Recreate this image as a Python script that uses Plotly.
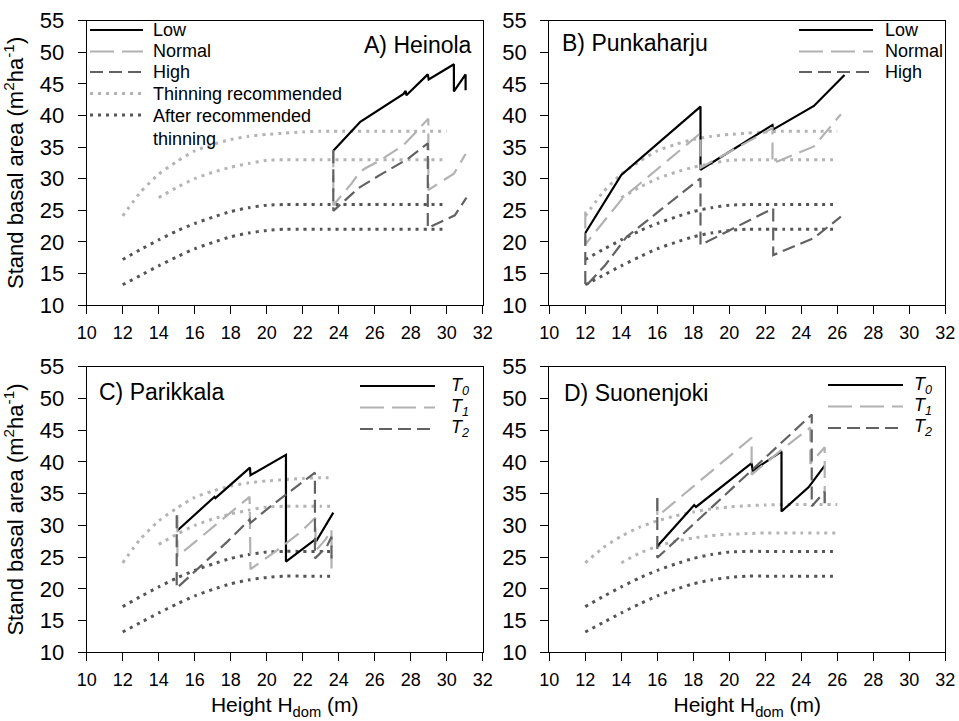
import plotly.graph_objects as go

W, H = 959, 721

# ---------------- reference (dotted) curves: stand basal area vs dominant height ----------------
REF_H = [12, 13, 14, 15, 16, 17, 18, 19, 20, 21, 22, 23, 23.7, 24, 25, 26, 27, 28, 29, 30]
THIN_HI = [24.1, 27.9, 30.7, 32.7, 34.4, 35.4, 36.2, 36.7, 37.0, 37.2, 37.4, 37.5, 37.5, 37.5, 37.5, 37.5, 37.5, 37.5, 37.5, 37.5]
THIN_LO = [None, None, 27.0, 28.6, 30.0, 31.0, 31.8, 32.4, 32.9, 33.0, 33.0, 33.0, 33.0, 33.0, 33.0, 33.0, 33.0, 33.0, 33.0, 33.0]
AFTER_HI = [17.2, 18.8, 20.3, 21.7, 22.9, 23.9, 24.8, 25.4, 25.8, 25.9, 25.9, 25.9, 25.9, 25.9, 25.9, 25.9, 25.9, 25.9, 25.9, 25.9]
AFTER_LO = [13.2, 14.7, 16.2, 17.6, 18.9, 19.9, 20.8, 21.4, 21.8, 22.0, 22.0, 22.0, 22.0, 22.0, 22.0, 22.0, 22.0, 22.0, 22.0, 22.0]
# Suonenjoki has lower "thinning recommended" limits
THIN_HI_D = [24.1, 26.5, 28.3, 29.7, 30.7, 31.5, 32.1, 32.6, 32.9, 33.1, 33.2, 33.3, 33.3, 33.3, 33.3, 33.3, 33.3, 33.3, 33.3, 33.3]
THIN_LO_D = [None, None, 24.1, 25.6, 26.7, 27.5, 28.0, 28.4, 28.6, 28.7, 28.8, 28.8, 28.8, 28.8, 28.8, 28.8, 28.8, 28.8, 28.8, 28.8]
REF_END = {"A": 30, "B": 26, "C": 23.7, "D": 26}

# ---------------- A) Heinola ----------------
A_LOW_X = [23.7, 25.2, 27.6, 27.72, 27.76, 28.95, 29.0, 30.4, 30.4, 31.05, 31.05]
A_LOW_Y = [34.4, 39.0, 43.4, 43.9, 43.2, 46.5, 45.7, 48.1, 43.8, 46.5, 44.0]
A_NOR_X = [23.7, 23.7, 24.26, 24.72, 25.19, 25.46, 26.3, 27.6, 28.4, 28.98, 28.98, 30.4, 31.05]
A_NOR_Y = [34.5, 25.8, 27.7, 29.25, 31.1, 31.6, 32.9, 35.3, 37.7, 39.5, 28.2, 30.8, 33.9]
A_HIG_X = [23.7, 23.7, 25.1, 26.3, 27.8, 28.95, 28.95, 30.45, 31.1]
A_HIG_Y = [34.5, 24.9, 28.5, 30.6, 33.05, 35.6, 22.2, 24.2, 27.0]

# ---------------- B) Punkaharju ----------------
B_LOW_X = [12.0, 14.0, 18.4, 18.4, 22.4, 22.45, 24.7, 26.4]
B_LOW_Y = [21.4, 30.6, 41.4, 31.4, 38.5, 37.8, 41.5, 46.4]
B_NOR_X = [12.0, 12.0, 14.1, 18.4, 18.4, 22.4, 22.4, 24.7, 26.2]
B_NOR_Y = [24.8, 19.6, 27.0, 37.2, 31.7, 38.0, 32.4, 35.1, 40.2]
B_HIG_X = [12.0, 12.0, 13.1, 14.3, 18.4, 18.4, 22.44, 22.44, 24.7, 26.2]
B_HIG_Y = [21.4, 12.9, 16.3, 20.8, 30.05, 19.5, 25.3, 17.9, 20.6, 24.0]

# ---------------- C) Parikkala ----------------
C_T0_X = [15.04, 17.1, 17.15, 19.07, 19.1, 21.07, 21.07, 22.7, 22.75, 23.7]
C_T0_Y = [29.2, 34.5, 34.3, 39.1, 37.9, 41.1, 24.3, 27.8, 27.5, 32.0]
C_T1_X = [15.04, 15.04, 19.05, 19.1, 20.4, 21.85, 22.7, 22.72, 23.25, 23.6, 23.6]
C_T1_Y = [31.6, 25.1, 34.5, 23.1, 25.7, 28.85, 31.2, 26.0, 27.7, 29.3, 23.2]
C_T2_X = [15.0, 15.0, 16.3, 17.8, 19.05, 19.1, 20.3, 22.68, 22.68, 23.33, 23.6, 23.6]
C_T2_Y = [31.6, 20.1, 23.5, 27.4, 30.9, 30.4, 33.2, 38.3, 24.8, 26.6, 28.2, 24.5]

# ---------------- D) Suonenjoki ----------------
D_T0_X = [16.0, 18.05, 18.15, 21.24, 21.3, 22.9, 22.9, 24.4, 25.3]
D_T0_Y = [26.7, 33.2, 32.9, 39.8, 38.6, 41.65, 32.2, 36.0, 39.4]
D_T1_X = [16.0, 16.0, 21.24, 21.24, 22.9, 24.5, 24.5, 25.3, 25.3]
D_T1_Y = [34.3, 31.4, 43.8, 38.0, 41.9, 45.4, 39.7, 42.3, 33.2]
D_T2_X = [16.0, 16.0, 24.58, 24.58, 25.3, 25.3]
D_T2_Y = [34.3, 24.9, 47.45, 33.0, 35.3, 33.2]

PANEL_TITLES = ["A) Heinola", "B) Punkaharju", "C) Parikkala", "D) Suonenjoki"]
LEG_AB = ["Low", "Normal", "High"]
LEG_REF = ["Thinning recommended", "After recommended<br>thinning"]
LEG_CD = ["<i>T<sub>0</sub></i>", "<i>T<sub>1</sub></i>", "<i>T<sub>2</sub></i>"]
X_TICKS = list(range(10, 33, 2))
Y_TICKS = list(range(10, 56, 5))

# ---------------- styles ----------------
FONT = "Liberation Sans, Arial, Helvetica, sans-serif"
C_BLACK = "#000000"
C_LIGHT = "#b2b2b2"
C_DARK = "#626262"
C_DOT_L = "#b4b4b4"
C_DOT_D = "#555555"
S_SOLID = dict(color=C_BLACK, width=2.2)
S_NORMAL = dict(color=C_LIGHT, width=2.2, dash="17px,8px")
S_HIGH = dict(color=C_DARK, width=2.2, dash="13px,6px")
S_DOT_L = dict(color=C_DOT_L, width=3, dash="3px,5px", shape="spline", smoothing=0.6)
S_DOT_D = dict(color=C_DOT_D, width=3, dash="3px,5px", shape="spline", smoothing=0.6)

# panel pixel boxes (left, right, top, bottom)
BOX = {
    "A": (86.7, 482.7, 20.7, 305.0),
    "B": (549.3, 945.3, 20.7, 305.0),
    "C": (86.7, 482.7, 366.7, 652.3),
    "D": (549.3, 945.3, 366.7, 652.3),
}
AX = {"A": ("x", "y"), "B": ("x2", "y2"), "C": ("x3", "y3"), "D": ("x4", "y4")}

fig = go.Figure()


def add(panel, xs, ys, line):
    xa, ya = AX[panel]
    fig.add_trace(go.Scatter(x=xs, y=ys, mode="lines", line=line, xaxis=xa, yaxis=ya,
                             showlegend=False, hoverinfo="x+y"))


def ref_curves(panel, hi, lo):
    end = REF_END[panel]
    for vals, st in ((hi, S_DOT_L), (lo, S_DOT_L), (AFTER_HI, S_DOT_D), (AFTER_LO, S_DOT_D)):
        xs, ys = [], []
        for h, v in zip(REF_H, vals):
            if v is not None and h <= end:
                xs.append(h)
                ys.append(v)
        add(panel, xs, ys, st)


ref_curves("A", THIN_HI, THIN_LO)
ref_curves("B", THIN_HI, THIN_LO)
ref_curves("C", THIN_HI, THIN_LO)
ref_curves("D", THIN_HI_D, THIN_LO_D)

add("A", A_LOW_X, A_LOW_Y, S_SOLID)
add("A", A_NOR_X, A_NOR_Y, S_NORMAL)
add("A", A_HIG_X, A_HIG_Y, S_HIGH)
add("B", B_LOW_X, B_LOW_Y, S_SOLID)
add("B", B_NOR_X, B_NOR_Y, S_NORMAL)
add("B", B_HIG_X, B_HIG_Y, S_HIGH)
add("C", C_T0_X, C_T0_Y, S_SOLID)
add("C", C_T1_X, C_T1_Y, S_NORMAL)
add("C", C_T2_X, C_T2_Y, S_HIGH)
add("D", D_T0_X, D_T0_Y, S_SOLID)
add("D", D_T1_X, D_T1_Y, S_NORMAL)
add("D", D_T2_X, D_T2_Y, S_HIGH)

# ---------------- axes ----------------
layout = dict(
    template="none",
    width=W, height=H, margin=dict(l=0, r=0, t=0, b=0, pad=0),
    paper_bgcolor="white", plot_bgcolor="white",
    font=dict(family=FONT, color="black"),
    showlegend=False,
)
for i, p in enumerate("ABCD"):
    l, r, t, b = BOX[p]
    sfx = "" if i == 0 else str(i + 1)
    xa = dict(domain=[l / W, r / W], anchor="y" + sfx, range=[10, 32], automargin=False,
              tickmode="array", tickvals=X_TICKS, ticktext=[str(v) for v in X_TICKS],
              ticks="outside", ticklen=8, tickwidth=1.3, tickcolor="black",
              showline=True, linecolor="black", linewidth=1.3, mirror=True,
              showgrid=False, zeroline=False, tickfont=dict(size=18, family=FONT),
              ticklabelstandoff=3)
    ya = dict(domain=[1 - b / H, 1 - t / H], anchor="x" + sfx, range=[10, 55], automargin=False,
              tickmode="array", tickvals=Y_TICKS, ticktext=[str(v) for v in Y_TICKS],
              ticks="outside", ticklen=8, tickwidth=1.3, tickcolor="black",
              showline=True, linecolor="black", linewidth=1.3, mirror=True,
              showgrid=False, zeroline=False, tickfont=dict(size=22, family=FONT),
              ticklabelstandoff=9)
    if p in "CD":
        xa["title"] = dict(text="Height H<sub>dom</sub> (m)", font=dict(size=21, family=FONT), standoff=8)
    if p in "AC":
        ya["title"] = dict(text="Stand basal area (m<sup>2</sup>ha<sup>-1</sup>)",
                           font=dict(size=22, family=FONT), standoff=9)
    layout["xaxis" + sfx] = xa
    layout["yaxis" + sfx] = ya

fig.update_layout(**layout)

# ---------------- panel titles ----------------
TITLE_POS = {"A": (473.5, 45, "right"), "B": (560, 43.5, "left"),
             "C": (96.7, 391.5, "left"), "D": (561.7, 393, "left")}
for p, txt in zip("ABCD", PANEL_TITLES):
    px, py, anc = TITLE_POS[p]
    fig.add_annotation(x=px / W, y=1 - py / H, xref="paper", yref="paper", text=txt,
                       showarrow=False, xanchor=anc, yanchor="middle",
                       font=dict(size=23, family=FONT, color="black"))

# ---------------- hand-made legends ----------------
LEG_NORMAL = dict(color=C_LIGHT, width=2.2, dash="24px,8px")
LEG_HIGH = dict(color=C_DARK, width=2.2, dash="13px,6px")
LEG_DOT_L = dict(color=C_DOT_L, width=3, dash="3px,5px")
LEG_DOT_D = dict(color=C_DOT_D, width=3, dash="3px,5px")


def legend(x0, x1, xt, rows, labels, styles):
    for py, lab, st in zip(rows, labels, styles):
        fig.add_shape(type="line", xref="paper", yref="paper",
                      x0=x0 / W, x1=x1 / W, y0=1 - py / H, y1=1 - py / H, line=st)
        fig.add_annotation(x=xt / W, y=1 - py / H, xref="paper", yref="paper", text=lab,
                           showarrow=False, xanchor="left", yanchor="middle", align="left",
                           font=dict(size=18, family=FONT, color="black"))


# A: five entries
rows_a = [30, 51.5, 72, 93.5, 115]
legend(90, 143, 151, rows_a[:3], LEG_AB, [S_SOLID, LEG_NORMAL, LEG_HIGH])
for py, lab, st in zip(rows_a[3:], LEG_REF, [LEG_DOT_L, LEG_DOT_D]):
    fig.add_shape(type="line", xref="paper", yref="paper",
                  x0=90 / W, x1=143 / W, y0=1 - py / H, y1=1 - py / H, line=st)
    fig.add_annotation(x=151 / W, y=1 - (py - 11) / H, xref="paper", yref="paper", text=lab,
                       showarrow=False, xanchor="left", yanchor="top", align="left",
                       font=dict(size=18, family=FONT, color="black"))
# B
legend(799, 873, 883, [30, 51.5, 72], LEG_AB, [S_SOLID, LEG_NORMAL, LEG_HIGH])
# C
legend(360, 435, 449, [386, 407.5, 429], LEG_CD, [S_SOLID, LEG_NORMAL, LEG_HIGH])
# D
legend(828, 903, 912, [385, 406.5, 428], LEG_CD, [S_SOLID, LEG_NORMAL, LEG_HIGH])

fig.write_html("out.html", config={"displayModeBar": False},
               post_script="document.body.style.margin='0px';")
